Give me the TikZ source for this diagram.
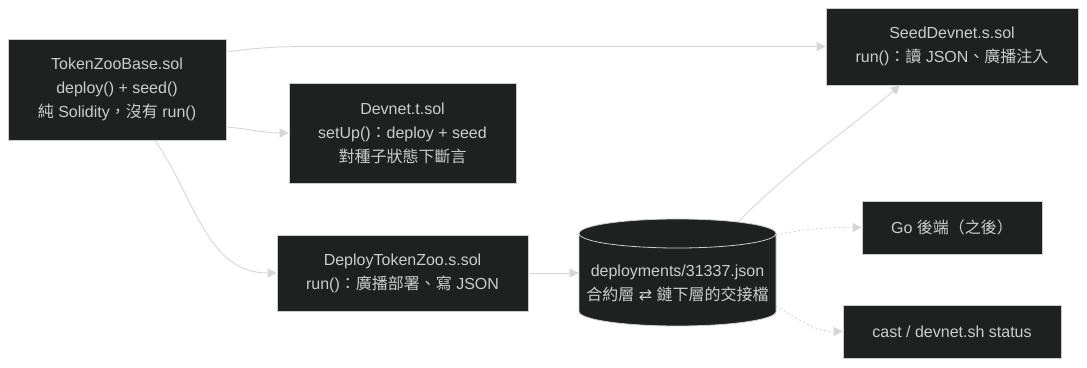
\documentclass[tikz,border=0pt]{standalone}
\usepackage{fontspec}
\setmainfont{Liberation Sans}
\newfontfamily\cjkfont{Noto Sans CJK TC}
\newfontfamily\symfont{DejaVu Sans}
\newcommand{\zh}[1]{{\cjkfont #1}}
\usetikzlibrary{arrows.meta}
\definecolor{boxfill}{HTML}{1F2020}
\definecolor{boxline}{HTML}{CCCCCC}
\definecolor{boxtext}{HTML}{CCCCCC}
\definecolor{edgecol}{HTML}{D6D6D6}
\tikzset{
  filebox/.style={draw=boxline, fill=boxfill, text=boxtext, line width=0.8pt,
    align=center, inner sep=0pt, font=\fontsize{16}{24}\selectfont},
  edge/.style={draw=edgecol, line width=0.9pt,
    -{Triangle[length=9pt, width=9pt, fill=edgecol]}},
  dotedge/.style={edge, dash pattern=on 2pt off 2.5pt}
}

\begin{document}
\begin{tikzpicture}[x=1pt, y=1pt]

  \useasboundingbox (0,0) rectangle (1087,367);

  % Script and test files.
  \node[filebox, minimum width=218pt, minimum height=101pt] (base) at (117,277.5)
    {TokenZooBase.sol\\deploy() + seed()\\\zh{純} Solidity\zh{，沒有} run()};
  \node[filebox, minimum width=227pt, minimum height=100pt] (devnet) at (402.5,234)
    {Devnet.t.sol\\setUp()\zh{：}deploy + seed\\\zh{對種子狀態下斷言}};
  \node[filebox, minimum width=251pt, minimum height=76pt] (deploy) at (402.5,94)
    {DeployTokenZoo.s.sol\\run()\zh{：廣播部署、寫} JSON};
  \node[filebox, minimum width=252pt, minimum height=77pt] (seed) at (952,320.5)
    {SeedDevnet.s.sol\\run()\zh{：讀} JSON\zh{、廣播注入}};

  % Consumers.
  \node[filebox, minimum width=180pt, minimum height=53pt] (go) at (952,139.5)
    {Go \zh{後端（之後）}};
  \node[filebox, minimum width=218pt, minimum height=53pt] (cast) at (952,35.5)
    {cast / devnet.sh status};

  % JSON store (cylinder drawn by hand round its node).
  \draw[draw=boxline, fill=boxfill, line width=0.8pt]
    (579,133.5) -- (579,55.5)
    arc[start angle=180, end angle=360, x radius=98.5, y radius=14.5]
    -- (776,133.5)
    arc[start angle=0, end angle=180, x radius=98.5, y radius=14.5] -- cycle;
  \draw[draw=boxline, line width=0.8pt]
    (579,133.5) arc[start angle=180, end angle=360, x radius=98.5, y radius=14.5];
  \node[filebox, draw=none, fill=none, minimum width=197pt] (json) at (677.5,84)
    {deployments/31337.json\\\zh{合約層} {\symfont ⇄} \zh{鏈下層的交接檔}};

  % Connectors.
  \draw[edge] ([yshift=37.5pt]base.east) to[out=8, in=180] ++(90,5.5) -- (seed.west);
  \draw[edge] ([yshift=-37.5pt]base.east) to[out=-5, in=180] (devnet.west);
  \draw[edge] ([xshift=38pt]base.south) to[out=-55, in=180] (deploy.west);
  \draw[edge] (deploy.east) -- (deploy.east -| json.west);
  \draw[edge] ([xshift=60.5pt, yshift=61pt]json.center) to[out=45, in=-140]
    ([xshift=-52pt]seed.south);
  \draw[dotedge] ([xshift=98.5pt, yshift=48pt]json.center) to[out=12, in=180] (go.west);
  \draw[dotedge] ([xshift=98.5pt, yshift=-23pt]json.center) to[out=-30, in=180] (cast.west);

\end{tikzpicture}
\end{document}
